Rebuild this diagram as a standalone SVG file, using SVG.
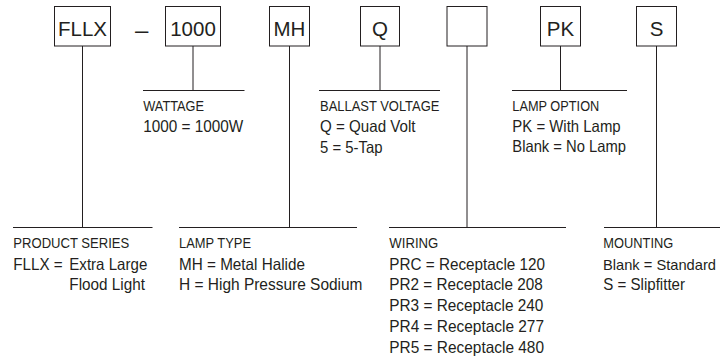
<svg xmlns="http://www.w3.org/2000/svg" width="720" height="358" viewBox="0 0 720 358">
<style>
.box{fill:#fff;stroke:#231f20;stroke-width:1}
.code{font-family:"Liberation Sans",Arial,sans-serif;font-size:20.5px;fill:#231f20;text-anchor:middle}
.ttl{font-family:"Liberation Sans",Arial,sans-serif;font-size:14px;fill:#231f20}
.val{font-family:"Liberation Sans",Arial,sans-serif;font-size:16.5px;fill:#231f20}
.ln{stroke:#231f20;stroke-width:1;fill:none}
</style>
<rect width="720" height="358" fill="#fff"/>
<g id="connectors" class="ln">
<path d="M82.5 46V227.5M13 227.5H152.5"/>
<path d="M193 46V90.5M143 90.5H244.5"/>
<path d="M289.5 46V227.5M179 227.5H357"/>
<path d="M380 46V90.5M319 90.5H440"/>
<path d="M467 46V227.5M389 227.5H566"/>
<path d="M560.5 46V90.5M512 90.5H627"/>
<path d="M656.5 46V227.5M604 227.5H720"/>
</g>
<g id="code-fllx"><rect class="box" x="54.5" y="6.5" width="56" height="39.5"/><text class="code" x="82.5" y="36">FLLX</text></g>
<g id="code-dash"><text class="code" x="141.7" y="37.5" style="font-size:24px">–</text></g>
<g id="code-1000"><rect class="box" x="165.5" y="6.5" width="55" height="39.5"/><text class="code" x="193" y="36">1000</text></g>
<g id="code-mh"><rect class="box" x="269.5" y="6.5" width="40" height="39.5"/><text class="code" x="289.5" y="36">MH</text></g>
<g id="code-q"><rect class="box" x="360.5" y="6.5" width="39" height="39.5"/><text class="code" x="380" y="36">Q</text></g>
<g id="code-wiring"><rect class="box" x="447" y="6.5" width="40" height="39.5"/></g>
<g id="code-pk"><rect class="box" x="540.5" y="6.5" width="40" height="39.5"/><text class="code" x="560.5" y="36">PK</text></g>
<g id="code-s"><rect class="box" x="636.5" y="6.5" width="40" height="39.5"/><text class="code" x="656.5" y="36">S</text></g>
<g id="desc-wattage">
<text class="ttl" x="143.3" y="110.5" textLength="60.7" lengthAdjust="spacingAndGlyphs">WATTAGE</text>
<text class="val" x="143.3" y="131.7" textLength="100" lengthAdjust="spacingAndGlyphs">1000 = 1000W</text>
</g>
<g id="desc-ballast">
<text class="ttl" x="320" y="110.5" textLength="119.4" lengthAdjust="spacingAndGlyphs">BALLAST VOLTAGE</text>
<text class="val" x="320" y="132" textLength="95.5" lengthAdjust="spacingAndGlyphs">Q = Quad Volt</text>
<text class="val" x="320" y="153" textLength="62.5" lengthAdjust="spacingAndGlyphs">5 = 5-Tap</text>
</g>
<g id="desc-lamp-option">
<text class="ttl" x="512.3" y="110.5" textLength="87" lengthAdjust="spacingAndGlyphs">LAMP OPTION</text>
<text class="val" x="512.3" y="131.5" textLength="108.4" lengthAdjust="spacingAndGlyphs">PK = With Lamp</text>
<text class="val" x="512.3" y="152" textLength="113.7" lengthAdjust="spacingAndGlyphs">Blank = No Lamp</text>
</g>
<g id="desc-product-series">
<text class="ttl" x="13.3" y="247.7" textLength="116" lengthAdjust="spacingAndGlyphs">PRODUCT SERIES</text>
<text class="val" x="13.3" y="269.5" textLength="49.4" lengthAdjust="spacingAndGlyphs">FLLX =</text>
<text class="val" x="69.3" y="269.5" textLength="78" lengthAdjust="spacingAndGlyphs">Extra Large</text>
<text class="val" x="69.3" y="290.3" textLength="75.7" lengthAdjust="spacingAndGlyphs">Flood Light</text>
</g>
<g id="desc-lamp-type">
<text class="ttl" x="179" y="247.7" textLength="72" lengthAdjust="spacingAndGlyphs">LAMP TYPE</text>
<text class="val" x="179" y="269.5" textLength="126" lengthAdjust="spacingAndGlyphs">MH = Metal Halide</text>
<text class="val" x="179" y="290.3" textLength="183.5" lengthAdjust="spacingAndGlyphs">H = High Pressure Sodium</text>
</g>
<g id="desc-wiring">
<text class="ttl" x="389.3" y="247.7" textLength="49" lengthAdjust="spacingAndGlyphs">WIRING</text>
<text class="val" x="389.3" y="269.5" textLength="155.7" lengthAdjust="spacingAndGlyphs">PRC = Receptacle 120</text>
<text class="val" x="389.3" y="290.3" textLength="153.4" lengthAdjust="spacingAndGlyphs">PR2 = Receptacle 208</text>
<text class="val" x="389.3" y="311.2" textLength="154" lengthAdjust="spacingAndGlyphs">PR3 = Receptacle 240</text>
<text class="val" x="389.3" y="332.3" textLength="154.7" lengthAdjust="spacingAndGlyphs">PR4 = Receptacle 277</text>
<text class="val" x="389.3" y="353.3" textLength="154.7" lengthAdjust="spacingAndGlyphs">PR5 = Receptacle 480</text>
</g>
<g id="desc-mounting">
<text class="ttl" x="603.3" y="247.7" textLength="70" lengthAdjust="spacingAndGlyphs">MOUNTING</text>
<text class="val" x="603" y="269.5" style="font-size:15px" textLength="113" lengthAdjust="spacingAndGlyphs">Blank = Standard</text>
<text class="val" x="603.3" y="290.3" textLength="81.7" lengthAdjust="spacingAndGlyphs">S = Slipfitter</text>
</g>
</svg>
